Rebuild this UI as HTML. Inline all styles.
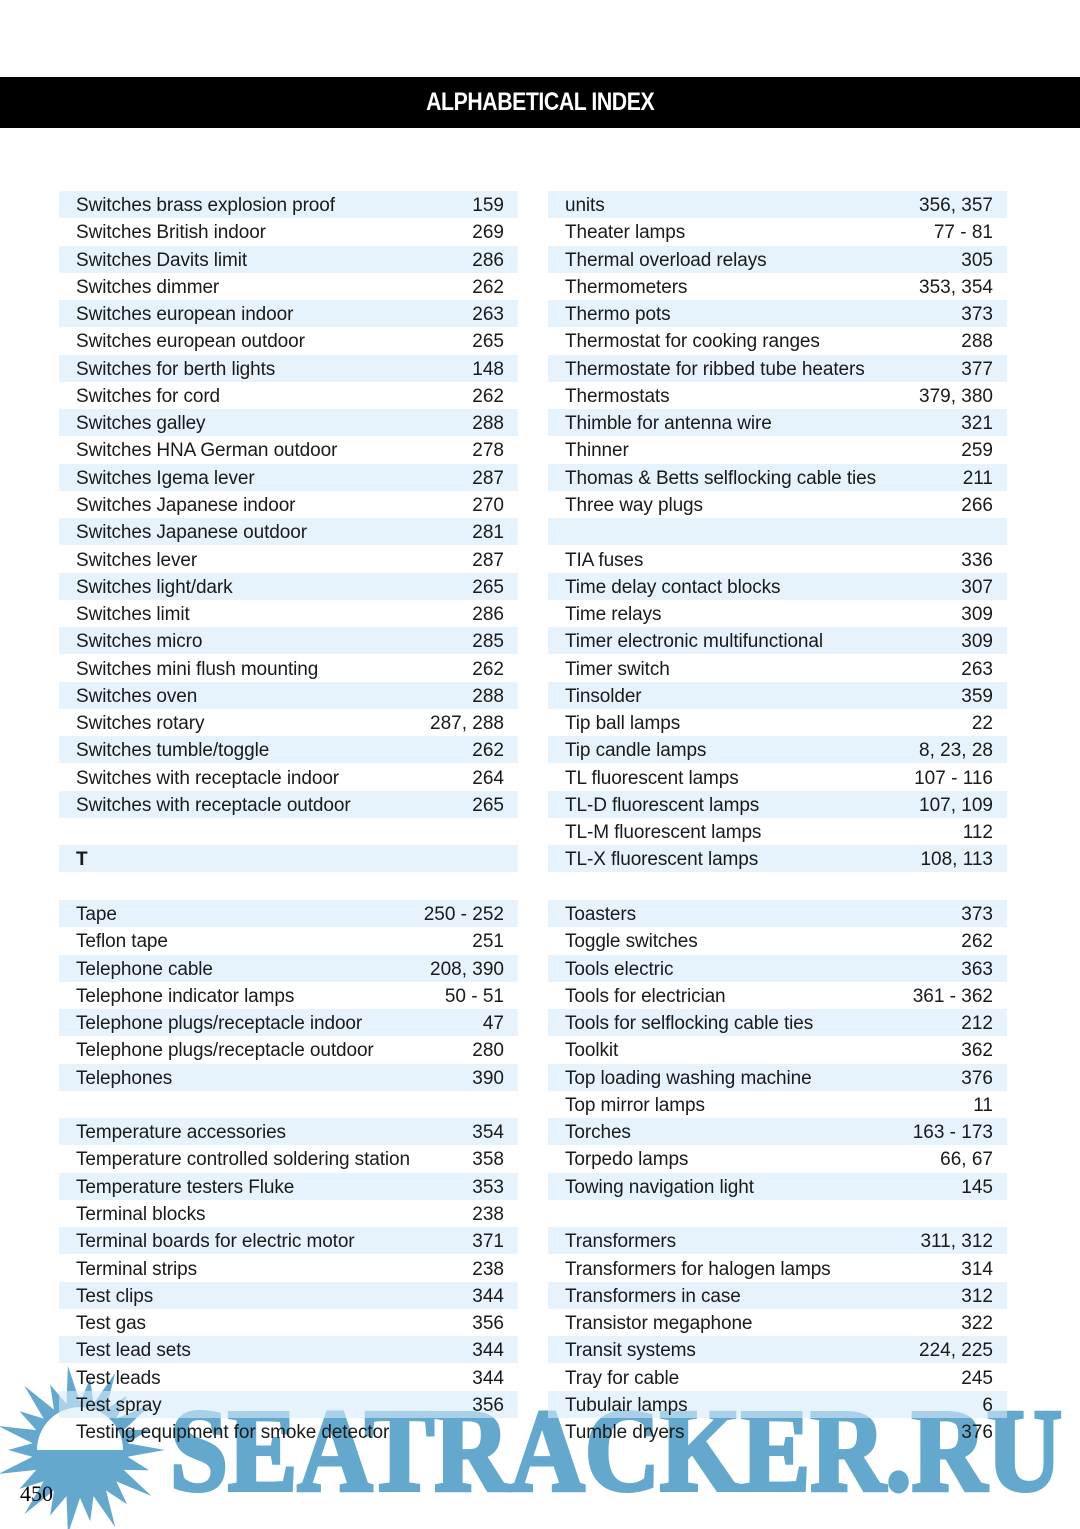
<!DOCTYPE html>
<html><head><meta charset="utf-8"><style>
body{margin:0;width:1080px;height:1529px;background:#fff;position:relative;overflow:hidden;font-family:"Liberation Sans",Arial,sans-serif}
.hdr{position:absolute;left:0;top:77px;width:1080px;height:51px;background:#000;color:#fff;text-align:center;font:bold 25px/51px "Liberation Sans",sans-serif;letter-spacing:-0.5px}
.hdr span{display:inline-block;transform:scaleX(0.85)}
#c{position:absolute;left:0;top:0;z-index:2}
.r{position:absolute;height:27px;width:459px;font-size:19px;line-height:29px;color:#1a1a1a}
.s{background:rgba(214,235,250,0.6)}
.r .t{position:absolute;left:17px;top:0;white-space:nowrap;letter-spacing:-0.1px}
.r .n{position:absolute;right:14px;top:0;white-space:nowrap}
svg{position:absolute;left:0;top:0;z-index:1}
</style></head><body>
<div class="hdr"><span>ALPHABETICAL INDEX</span></div>
<svg width="1080" height="1529">
<g id="star"></g>
<text x="170" y="1490" font-family="Liberation Serif,serif" font-weight="bold" font-size="118" fill="#64a8cd" stroke="#64a8cd" stroke-width="4" textLength="892" lengthAdjust="spacingAndGlyphs">SEATRACKER.RU</text>
</svg>
<div id="c"></div>
<div style="position:absolute;left:20px;top:1481px;z-index:3;font:22px 'Liberation Serif',serif;color:#000">450</div>
<script>
var L=[["Switches brass explosion proof","159"],["Switches British indoor","269"],["Switches Davits limit","286"],["Switches dimmer","262"],["Switches european indoor","263"],["Switches european outdoor","265"],["Switches for berth lights","148"],["Switches for cord","262"],["Switches galley","288"],["Switches HNA German outdoor","278"],["Switches Igema lever","287"],["Switches Japanese indoor","270"],["Switches Japanese outdoor","281"],["Switches lever","287"],["Switches light/dark","265"],["Switches limit","286"],["Switches micro","285"],["Switches mini flush mounting","262"],["Switches oven","288"],["Switches rotary","287, 288"],["Switches tumble/toggle","262"],["Switches with receptacle indoor","264"],["Switches with receptacle outdoor","265"],["",""],["<b>T</b>",""],["",""],["Tape","250 - 252"],["Teflon tape","251"],["Telephone cable","208, 390"],["Telephone indicator lamps","50 - 51"],["Telephone plugs/receptacle indoor","47"],["Telephone plugs/receptacle outdoor","280"],["Telephones","390"],["",""],["Temperature accessories","354"],["Temperature controlled soldering station","358"],["Temperature testers Fluke","353"],["Terminal blocks","238"],["Terminal boards for electric motor","371"],["Terminal strips","238"],["Test clips","344"],["Test gas","356"],["Test lead sets","344"],["Test leads","344"],["Test spray","356"],["Testing equipment for smoke detector",""]];
var R=[["units","356, 357"],["Theater lamps","77 - 81"],["Thermal overload relays","305"],["Thermometers","353, 354"],["Thermo pots","373"],["Thermostat for cooking ranges","288"],["Thermostate for ribbed tube heaters","377"],["Thermostats","379, 380"],["Thimble for antenna wire","321"],["Thinner","259"],["Thomas &amp; Betts selflocking cable ties","211"],["Three way plugs","266"],["",""],["TIA fuses","336"],["Time delay contact blocks","307"],["Time relays","309"],["Timer electronic multifunctional","309"],["Timer switch","263"],["Tinsolder","359"],["Tip ball lamps","22"],["Tip candle lamps","8, 23, 28"],["TL fluorescent lamps","107 - 116"],["TL-D fluorescent lamps","107, 109"],["TL-M fluorescent lamps","112"],["TL-X fluorescent lamps","108, 113"],["",""],["Toasters","373"],["Toggle switches","262"],["Tools electric","363"],["Tools for electrician","361 -  362"],["Tools for selflocking cable ties","212"],["Toolkit","362"],["Top loading washing machine","376"],["Top mirror lamps","11"],["Torches","163 - 173"],["Torpedo lamps","66, 67"],["Towing navigation light","145"],["",""],["Transformers","311, 312"],["Transformers for halogen lamps","314"],["Transformers in case","312"],["Transistor megaphone","322"],["Transit systems","224, 225"],["Tray for cable","245"],["Tubulair lamps","6"],["Tumble dryers","376"]];
var h="";
function col(a,x){for(var i=0;i<a.length;i++){var y=Math.round(191+i*27.27);h+='<div class="r'+(i%2==0?' s':'')+'" style="left:'+x+'px;top:'+y+'px"><span class="t">'+a[i][0]+'</span><span class="n">'+a[i][1]+'</span></div>';}}
col(L,59);col(R,548);
document.getElementById("c").innerHTML=h;
var cx=80,cy=1450,p=[];for(var k=0;k<44;k++){var a=k*Math.PI/22,r=k%2?48:(k%4?72:85);p.push((cx+r*Math.cos(a)).toFixed(1)+","+(cy+r*Math.sin(a)).toFixed(1));}
document.getElementById("star").innerHTML='<polygon points="'+p.join(" ")+'" fill="#64a8cd"/><path d="M37 1450 A43 43 0 0 1 123 1450 Z" fill="#fff"/>';
</script>
</body></html>
